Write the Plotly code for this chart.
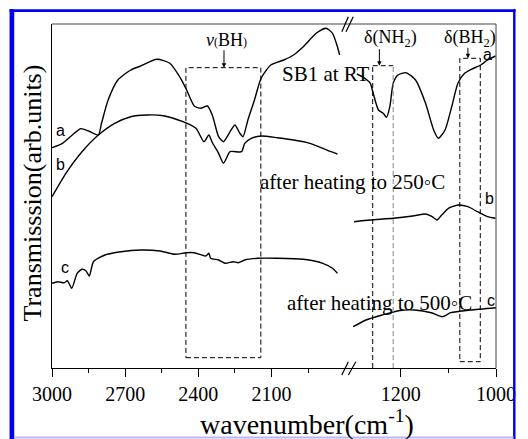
import plotly.graph_objects as go

# ---------------- data (wavenumber in cm-1, transmission in arb. units) ----------------
# left part of the broken axis (3000 -> ~1790 cm-1)
wn_a_left = [3000, 2957, 2917, 2883, 2850, 2810, 2797, 2770, 2730, 2677, 2637, 2570, 2517, 2477,
             2450, 2417, 2390, 2363, 2343, 2317, 2297, 2270, 2250, 2230, 2217, 2197, 2170, 2143,
             2103, 2050, 2010, 1970, 1917, 1877, 1850, 1830, 1821]
t_a_left = [220.3, 224.7, 233, 239.3, 237, 233, 244.7, 268, 288, 298, 302, 308.7, 304.7, 291.3,
            279, 262, 259.7, 262, 253, 231.3, 226.3, 236.3, 243, 234.7, 231.3, 248, 268, 289.7,
            303, 308, 313, 321.3, 334.7, 339.7, 334.7, 321.3, 313]

wn_b_left = [3000, 2943, 2877, 2810, 2743, 2677, 2610, 2543, 2463, 2410, 2377, 2357, 2343, 2317,
             2297, 2270, 2223, 2210, 2183, 2143, 2077, 2010, 1943, 1890, 1857, 1830]
t_b_left = [171.3, 194.7, 216.3, 233, 244.7, 251.3, 253, 252.3, 246.3, 239.7, 226.3, 233, 225.5,
            214.7, 204.7, 216.3, 216.3, 224.7, 229.7, 232, 230.3, 228, 224.7, 219.7, 216.3, 214]

wn_c_left = [3000, 2977, 2950, 2937, 2919, 2897, 2877, 2861, 2847, 2830, 2783, 2717, 2637, 2557,
             2497, 2450, 2417, 2370, 2357, 2350, 2317, 2290, 2257, 2237, 2210, 2157, 2077, 1970,
             1890, 1850, 1830]
t_c_left = [84.7, 86.3, 85.3, 87.3, 79.7, 94.7, 98.7, 97.3, 92, 106.3, 113, 116.3, 118, 117,
            113.7, 115.3, 115.3, 112, 114.7, 109.7, 108, 104.7, 106.3, 105.3, 108, 109.7, 109.7,
            108.7, 104.7, 99.7, 94.7]

# right part of the broken axis (~1310 -> 1000 cm-1)
wn_a_right = [1292, 1281, 1271, 1264, 1257, 1247, 1237, 1230, 1223, 1216, 1206, 1189, 1169, 1148,
              1131, 1121, 1107, 1093, 1080, 1066, 1052, 1032, 1018, 1001]
t_a_right = [294, 291.3, 288, 284.7, 273, 258, 254.7, 250.7, 261.3, 284.7, 293, 295.3, 288, 264.7,
             238, 229.7, 238, 261.3, 284.7, 294.7, 298.7, 303, 308, 312]

wn_b_right = [1298, 1264, 1216, 1175, 1148, 1134, 1124, 1114, 1100, 1080, 1059, 1039, 1018, 1001]
t_b_right = [146.3, 148, 149.7, 152, 154, 151.3, 148, 153, 159.7, 163, 161.3, 156.3, 151.3, 149.7]

wn_c_right = [1300, 1273, 1239, 1205, 1171, 1136, 1113, 1095, 1054, 1000]
t_c_right = [41.3, 48, 53, 57.3, 58, 55.3, 51.3, 55.3, 58, 60.3]

# tick labels
left_ticks = [3000, 2700, 2400, 2100]
left_minor = [2850, 2550, 2250, 1950]
right_ticks = [1200, 1000]
right_minor = [1100]

# dashed band boxes: (wn_high, wn_low, t_top, t_bottom)
box_bh = (2451, 2144, 300.3, 10.3)
box_nh2 = (1259, 1216, 302.3, 0)
box_bh2 = (1076, 1033, 309.7, 6.3)

# ---------------- layout geometry ----------------
W, H = 528, 439
ML, MR, MT, MB = 52, 21, 24, 71
PW = W - ML - MR
PH = H - MT - MB
SPLIT = (355 - ML) / PW
LEFT_RANGE = [3000, 1788]
RIGHT_RANGE = [1311.6, 1000]
Y_RANGE = [0, PH]


def pxx(x):
    return (x - ML) / PW


def pxy(y):
    return (H - MB - y) / PH


SERIF = "Liberation Serif"
SANS = "Liberation Sans"

fig = go.Figure()
line_style = dict(color="black", width=1.4, shape="spline", smoothing=0.6)
for xs, ys, ax in [(wn_a_left, t_a_left, "x"), (wn_b_left, t_b_left, "x"), (wn_c_left, t_c_left, "x"),
                   (wn_a_right, t_a_right, "x2"), (wn_b_right, t_b_right, "x2"),
                   (wn_c_right, t_c_right, "x2")]:
    fig.add_trace(go.Scatter(x=xs, y=ys, mode="lines", line=line_style, xaxis=ax, yaxis="y",
                             hoverinfo="skip"))


def xaxis_style(domain, rng, ticks, minor):
    return dict(domain=domain, range=rng, tickmode="array", tickvals=ticks,
                ticktext=[str(t) for t in ticks],
                showline=True, linecolor="black", linewidth=1, ticks="outside", ticklen=8,
                tickwidth=1, tickcolor="black", showgrid=False, zeroline=False,
                tickfont=dict(family=SERIF, size=20, color="black"),
                minor=dict(tickvals=minor, ticks="outside", ticklen=4, tickcolor="black"))


fig.update_layout(
    width=W, height=H, margin=dict(l=ML, r=MR, t=MT, b=MB, pad=0),
    paper_bgcolor="white", plot_bgcolor="white", showlegend=False,
    font=dict(family=SERIF, color="black"),
    xaxis=xaxis_style([0, SPLIT], LEFT_RANGE, left_ticks, left_minor),
    xaxis2=dict(anchor="y", **xaxis_style([SPLIT, 1], RIGHT_RANGE, right_ticks, right_minor)),
    yaxis=dict(range=Y_RANGE, showticklabels=False, ticks="", showline=True, linecolor="black",
               linewidth=1, showgrid=False, zeroline=False),
)

shapes = []
# frame top & right
shapes.append(dict(type="line", xref="paper", yref="paper", x0=0, x1=1, y0=1, y1=1,
                   line=dict(color="#444", width=1)))
shapes.append(dict(type="line", xref="paper", yref="paper", x0=1, x1=1, y0=0, y1=1,
                   line=dict(color="#444", width=1)))
# break marks
for (x0, y0, x1, y1) in [(349, 31.7, 355.7, 16.7), (353.3, 31.7, 360.7, 16.7),
                         (349, 375, 355.7, 361.7), (355.7, 375, 363.3, 361.7)]:
    shapes.append(dict(type="line", xref="paper", yref="paper", x0=pxx(x0), y0=pxy(y0),
                       x1=pxx(x1), y1=pxy(y1), line=dict(color="black", width=1.2)))
# blue border
blue = "#0000ee"
for (x0, y0, x1, y1, c) in [(8.5, 9.3, 13.3, 439, blue), (8.5, 9.3, 527, 12, blue),
                            (524.5, 9.3, 527, 439, blue), (13.3, 436.5, 525, 438.5, "#b8b8ff")]:
    shapes.append(dict(type="rect", xref="paper", yref="paper", x0=pxx(x0), y0=pxy(y0),
                       x1=pxx(x1), y1=pxy(y1), fillcolor=c, line=dict(width=0), layer="above"))
# dashed boxes
dash = dict(color="black", width=1, dash="5px,3px")
for box, xr in [(box_bh, "x"), (box_bh2, "x2")]:
    shapes.append(dict(type="rect", xref=xr, yref="y", x0=box[0], x1=box[1], y0=box[3], y1=box[2],
                       line=dash))
hx, lx, top, bot = box_nh2
shapes.append(dict(type="line", xref="x2", yref="y", x0=hx, x1=hx, y0=bot, y1=top, line=dash))
shapes.append(dict(type="line", xref="x2", yref="y", x0=hx, x1=lx, y0=top, y1=top, line=dash))
shapes.append(dict(type="line", xref="x2", yref="y", x0=lx, x1=lx, y0=bot, y1=top,
                   line=dict(color="#888", width=1, dash="5px,3px")))
fig.update_layout(shapes=shapes)

ann = []


def txt(text, x, y, size, family=SERIF, **kw):
    ann.append(dict(text=text, x=pxx(x), y=pxy(y), xref="paper", yref="paper", showarrow=False,
                    xanchor="center", yanchor="middle", font=dict(family=family, size=size,
                                                                  color="black"), **kw))


txt("Transmisssion(arb.units)", 31, 193, 26, textangle=-90)
txt("wavenumber(cm<sup>-1</sup>)", 313, 422, 28)
txt("<i>ν</i><span style='font-size:12px'>(</span>BH<span style='font-size:12px'>)</span>",
    230.5, 40, 18)
txt("δ(NH<sub>2</sub>)", 399, 39, 18)
txt("δ(BH<sub>2</sub>)", 480, 39, 18)
txt("SB1 at RT", 333, 74, 21)
txt("after heating to 250◦C", 360, 182, 21)
txt("after heating to 500◦C", 388, 303, 21)
for t, x, y in [("a", 60.7, 130.7), ("b", 60.7, 165), ("c", 65.7, 267.3),
                ("a", 498, 54), ("b", 500, 198), ("c", 502, 300)]:
    txt(t, x, y, 16, family=SANS)

# arrows pointing at the bands
for xr, xv, yv, ay in [("x", 2295, box_bh[2], -19), ("x2", 1245, box_nh2[2], -18),
                       ("x2", 1059, box_bh2[2], -12)]:
    ann.append(dict(text="", x=xv, y=yv, xref=xr, yref="y", showarrow=True, ax=0, ay=ay,
                    arrowhead=2, arrowsize=0.9, arrowwidth=1, arrowcolor="black"))
fig.update_layout(annotations=ann)

fig.write_html("out.html")
